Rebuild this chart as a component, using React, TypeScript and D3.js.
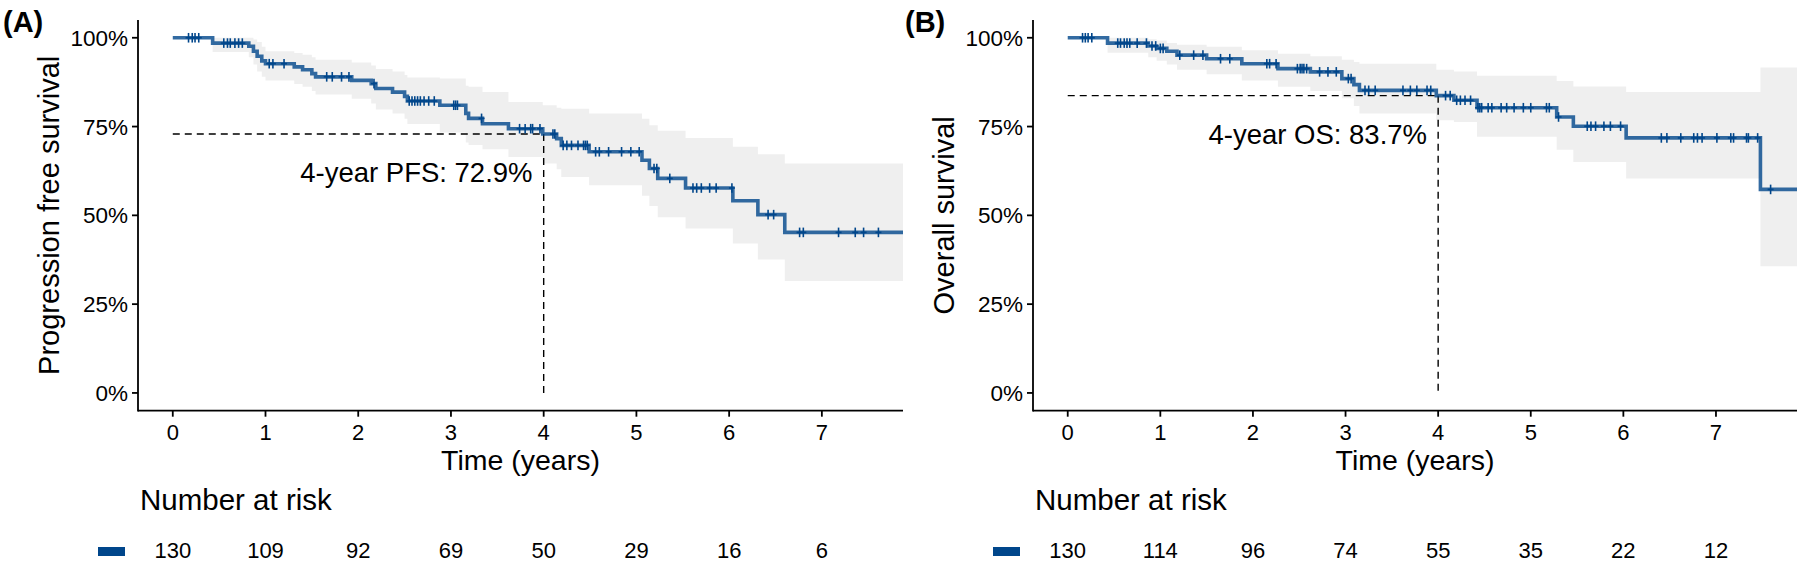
import React from 'react';
import * as d3 from 'd3';

// ---------- Panel A: progression free survival ----------
const PFS_TIME = [0, 0.43, 0.82, 0.87, 0.91, 0.96, 1.0, 1.31, 1.40, 1.50, 1.54, 1.93, 2.14, 2.19, 2.37, 2.50, 2.53, 2.88, 3.16, 3.19, 3.34, 3.62, 3.99, 4.14, 4.19, 4.49, 5.06, 5.14, 5.23, 5.53, 6.04, 6.31, 6.60];
const PFS_SURV = [1, 0.985, 0.976, 0.962, 0.948, 0.935, 0.927, 0.918, 0.910, 0.899, 0.890, 0.880, 0.871, 0.857, 0.847, 0.835, 0.822, 0.810, 0.787, 0.773, 0.758, 0.744, 0.729, 0.716, 0.697, 0.679, 0.655, 0.632, 0.604, 0.577, 0.541, 0.502, 0.452];
const PFS_LOWER = [1, 0.960, 0.945, 0.925, 0.905, 0.890, 0.880, 0.870, 0.862, 0.850, 0.840, 0.828, 0.815, 0.798, 0.787, 0.772, 0.757, 0.733, 0.705, 0.698, 0.686, 0.664, 0.646, 0.630, 0.608, 0.585, 0.555, 0.526, 0.495, 0.463, 0.421, 0.376, 0.315];
const PFS_UPPER = [1, 1, 1, 0.995, 0.988, 0.975, 0.962, 0.957, 0.952, 0.945, 0.938, 0.930, 0.922, 0.912, 0.905, 0.895, 0.888, 0.885, 0.865, 0.862, 0.847, 0.819, 0.810, 0.803, 0.800, 0.787, 0.772, 0.754, 0.738, 0.718, 0.693, 0.672, 0.646];
const PFS_CENSOR = [0.17, 0.21, 0.24, 0.28, 0.55, 0.59, 0.62, 0.67, 0.71, 0.75, 1.04, 1.08, 1.20, 1.66, 1.72, 1.82, 1.90, 2.17, 2.55, 2.58, 2.61, 2.64, 2.67, 2.71, 2.76, 2.82, 3.03, 3.05, 3.07, 3.33, 3.74, 3.80, 3.86, 3.88, 3.96, 4.10, 4.12, 4.21, 4.25, 4.30, 4.37, 4.43, 4.45, 4.47, 4.56, 4.60, 4.70, 4.84, 4.94, 5.03, 5.19, 5.22, 5.36, 5.61, 5.65, 5.70, 5.79, 5.86, 6.03, 6.42, 6.48, 6.76, 6.80, 7.18, 7.36, 7.45, 7.61];
const PFS_END = 7.875;
const PFS_RISK = [130, 109, 92, 69, 50, 29, 16, 6];

// ---------- Panel B: overall survival ----------
const OS_TIME = [0, 0.43, 0.87, 0.96, 1.07, 1.18, 1.50, 1.88, 2.27, 2.62, 2.96, 3.09, 3.15, 3.98, 4.17, 4.42, 5.28, 5.46, 6.03, 7.48];
const OS_SURV = [1, 0.985, 0.977, 0.970, 0.962, 0.951, 0.941, 0.927, 0.913, 0.904, 0.885, 0.868, 0.852, 0.837, 0.824, 0.803, 0.777, 0.751, 0.718, 0.573];
const OS_LOWER = [1, 0.958, 0.945, 0.935, 0.925, 0.910, 0.897, 0.880, 0.862, 0.850, 0.830, 0.808, 0.787, 0.768, 0.763, 0.721, 0.685, 0.650, 0.604, 0.357];
const OS_UPPER = [1, 1, 0.996, 0.992, 0.985, 0.980, 0.975, 0.965, 0.955, 0.948, 0.938, 0.932, 0.927, 0.910, 0.905, 0.893, 0.878, 0.863, 0.847, 0.916];
const OS_CENSOR = [0.16, 0.19, 0.22, 0.26, 0.54, 0.57, 0.61, 0.64, 0.67, 0.75, 0.85, 0.91, 0.95, 1.00, 1.03, 1.21, 1.36, 1.46, 1.65, 1.75, 2.15, 2.18, 2.25, 2.48, 2.51, 2.53, 2.55, 2.58, 2.72, 2.81, 2.90, 3.03, 3.06, 3.21, 3.25, 3.32, 3.62, 3.70, 3.77, 3.88, 3.92, 4.08, 4.13, 4.20, 4.24, 4.29, 4.35, 4.43, 4.45, 4.47, 4.54, 4.58, 4.68, 4.74, 4.82, 4.92, 5.00, 5.17, 5.20, 5.30, 5.61, 5.65, 5.70, 5.79, 5.86, 5.97, 6.41, 6.47, 6.62, 6.76, 6.80, 6.85, 7.01, 7.16, 7.19, 7.33, 7.35, 7.45, 7.59];
const OS_END = 7.875;
const OS_RISK = [130, 114, 96, 74, 55, 35, 22, 12];

// ---------- shared ----------
const X_TICKS = [0, 1, 2, 3, 4, 5, 6, 7];
const Y_TICKS = [0, 0.25, 0.5, 0.75, 1];
const Y_TICK_LABELS = ['0%', '25%', '50%', '75%', '100%'];
const LANDMARK_YEAR = 4;

const FONT = "'Liberation Sans', Arial, Helvetica, sans-serif";
const LINE_COLOR = '#00468B';
const BAND_COLOR = '#efefef';

type PanelProps = {
  x0: number; x1: number; tagX: number; tag: string; yTitle: string;
  times: number[]; surv: number[]; lower: number[]; upper: number[];
  censor: number[]; end: number; landmarkValue: number; annot: string; risk: number[];
};

function Panel(p: PanelProps) {
  const top = 20, bottom = 410.7;
  const x = d3.scaleLinear().domain([-0.375, 7.875]).range([p.x0, p.x1]);
  const y = d3.scaleLinear().domain([-0.05, 1.05]).range([bottom, top]);
  const n = p.times.length;
  const pts = p.times.map((t, i) => ({ t, s: p.surv[i], lo: p.lower[i], hi: p.upper[i] }));
  pts.push({ t: p.end, s: p.surv[n - 1], lo: p.lower[n - 1], hi: p.upper[n - 1] });
  const line = d3.line<any>().x(d => x(d.t)).y(d => y(d.s)).curve(d3.curveStepAfter);
  const area = d3.area<any>().x(d => x(d.t)).y0(d => y(d.lo)).y1(d => y(d.hi)).curve(d3.curveStepAfter);
  const sAt = (t: number) => { let s = 1; for (let i = 0; i < n; i++) if (p.times[i] <= t) s = p.surv[i]; return s; };
  const axisStroke = 1.8;
  return (
    <g fontFamily={FONT}>
      <text x={p.tagX} y={32} fontSize={29} fontWeight="bold">{p.tag}</text>
      {/* band */}
      <path d={area(pts) || ''} fill={BAND_COLOR} />
      {/* landmark lines */}
      <line x1={x(0)} x2={x(LANDMARK_YEAR)} y1={y(p.landmarkValue)} y2={y(p.landmarkValue)} stroke="#000" strokeWidth={1.4} strokeDasharray="7 5" />
      <line x1={x(LANDMARK_YEAR)} x2={x(LANDMARK_YEAR)} y1={y(p.landmarkValue)} y2={y(0)} stroke="#000" strokeWidth={1.4} strokeDasharray="7 5" />
      {/* curve */}
      <path d={line(pts) || ''} fill="none" stroke={LINE_COLOR} strokeOpacity={0.8} strokeWidth={3.6} />
      {p.censor.map((t, i) => {
        const cx = x(t), cy = y(sAt(t));
        return (
          <g key={i} stroke={LINE_COLOR} strokeWidth={1.6}>
            <line x1={cx} x2={cx} y1={cy - 4.8} y2={cy + 4.8} />
            <line x1={cx - 3} x2={cx + 3} y1={cy} y2={cy} />
          </g>
        );
      })}
      <text x={x(3.88)} y={y(p.landmarkValue - 0.135)} fontSize={27.5} textAnchor="end">{p.annot}</text>
      {/* axes */}
      <line x1={p.x0} x2={p.x0} y1={top} y2={bottom + axisStroke / 2} stroke="#000" strokeWidth={axisStroke} />
      <line x1={p.x0} x2={p.x1} y1={bottom} y2={bottom} stroke="#000" strokeWidth={axisStroke} />
      {Y_TICKS.map((v, i) => (
        <g key={'y' + i}>
          <line x1={p.x0 - 6} x2={p.x0} y1={y(v)} y2={y(v)} stroke="#000" strokeWidth={axisStroke} />
          <text x={p.x0 - 10} y={y(v)} dy="0.36em" fontSize={22.5} textAnchor="end">{Y_TICK_LABELS[i]}</text>
        </g>
      ))}
      {X_TICKS.map((v, i) => (
        <g key={'x' + i}>
          <line x1={x(v)} x2={x(v)} y1={bottom} y2={bottom + 6} stroke="#000" strokeWidth={axisStroke} />
          <text x={x(v)} y={440} fontSize={22} textAnchor="middle">{v}</text>
        </g>
      ))}
      <text x={(p.x0 + p.x1) / 2} y={469.5} fontSize={28.5} textAnchor="middle">Time (years)</text>
      <text transform={`translate(${p.x0 - 79},${(top + bottom) / 2}) rotate(-90)`} fontSize={29} textAnchor="middle">{p.yTitle}</text>
      {/* risk table */}
      <text x={p.x0 + 2} y={509.5} fontSize={29.5}>Number at risk</text>
      <rect x={p.x0 - 40} y={547} width={27} height={9} fill={LINE_COLOR} />
      {p.risk.map((r, i) => (
        <text key={'r' + i} x={x(X_TICKS[i])} y={558} fontSize={22} textAnchor="middle">{r}</text>
      ))}
    </g>
  );
}

export default function App() {
  return (
    <svg width={1800} height={563} style={{ position: 'absolute', left: 0, top: 0, background: '#fff' }}>
      <rect width={1800} height={563} fill="#fff" />
      <Panel x0={138} x1={903} tagX={3} tag="(A)" yTitle="Progression free survival"
        times={PFS_TIME} surv={PFS_SURV} lower={PFS_LOWER} upper={PFS_UPPER}
        censor={PFS_CENSOR} end={PFS_END} landmarkValue={0.729} annot="4-year PFS: 72.9%" risk={PFS_RISK} />
      <Panel x0={1033} x1={1797} tagX={905} tag="(B)" yTitle="Overall survival"
        times={OS_TIME} surv={OS_SURV} lower={OS_LOWER} upper={OS_UPPER}
        censor={OS_CENSOR} end={OS_END} landmarkValue={0.837} annot="4-year OS: 83.7%" risk={OS_RISK} />
    </svg>
  );
}
